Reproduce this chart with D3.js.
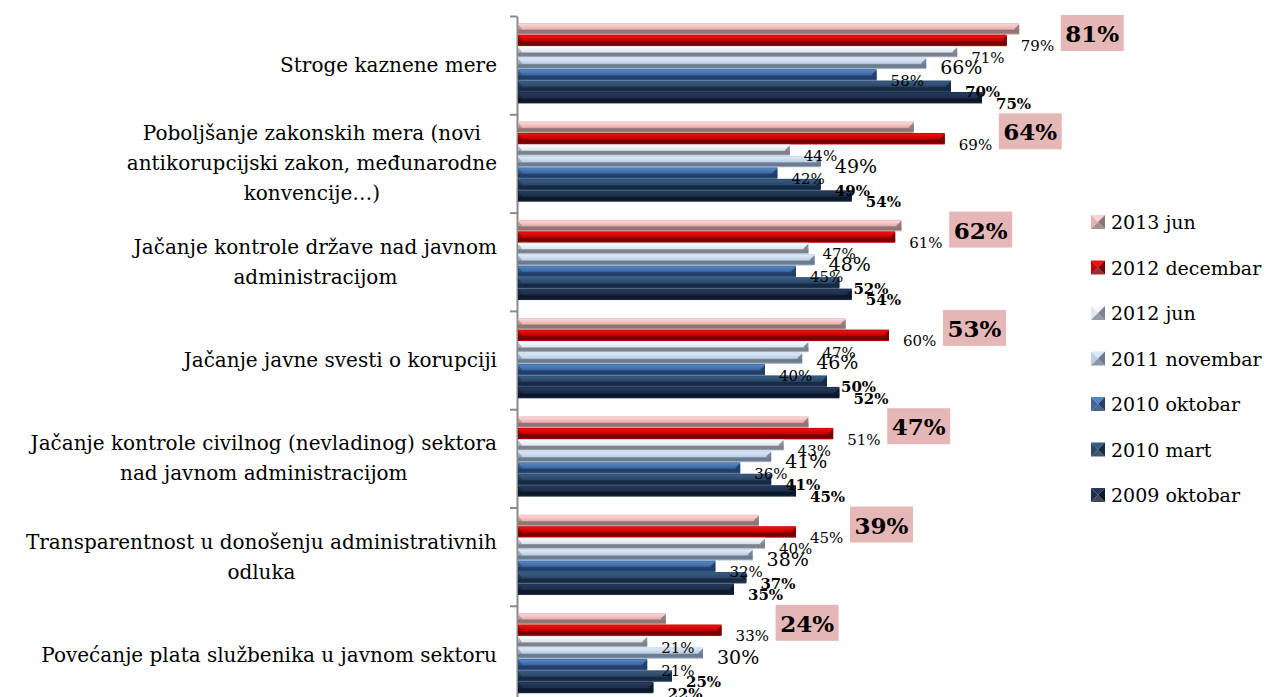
<!DOCTYPE html>
<html lang="sr">
<head>
    <meta charset="UTF-8">
    <title>Mere protiv korupcije</title>
    <script src="https://d3js.org/d3.v7.min.js"></script>
    <style>
        body {
            margin: 0;
            background: #fff;
        }
        text {
            font-family: "DejaVu Serif", serif;
            fill: #000;
        }
        .cat-label {
            font-size: 20px;
        }
        .legend text {
            font-size: 19px;
        }
    </style>
</head>
<body>
<svg width="1280" height="697"></svg>
<script>
    // categories (line breaks as in the original chart)
    let categories = [
        "Stroge kaznene mere",
        "Poboljšanje zakonskih mera (novi\nantikorupcijski zakon, međunarodne\nkonvencije…)",
        "Jačanje kontrole države nad javnom\nadministracijom",
        "Jačanje javne svesti o korupciji",
        "Jačanje kontrole civilnog (nevladinog) sektora\nnad  javnom administracijom",
        "Transparentnost u donošenju administrativnih\nodluka",
        "Povećanje plata službenika u javnom sektoru"
    ];

    let seriesNames = ["2013 jun", "2012 decembar", "2012 jun", "2011 novembar",
        "2010 oktobar", "2010 mart", "2009 oktobar"];

    // values in %, one per category
    let jun2013 = [81, 64, 62, 53, 47, 39, 24];
    let dec2012 = [79, 69, 61, 60, 51, 45, 33];
    let jun2012 = [71, 44, 47, 47, 43, 40, 21];
    let nov2011 = [66, 49, 48, 46, 41, 38, 30];
    let okt2010 = [58, 42, 45, 40, 36, 32, 21];
    let mar2010 = [70, 49, 52, 50, 41, 37, 25];
    let okt2009 = [75, 54, 54, 52, 45, 35, 22];

    let seriesValues = [jun2013, dec2012, jun2012, nov2011, okt2010, mar2010, okt2009];

    // bar shading: [highlight, base, shadow]
    let shades = [
        ["#f8d4d3", "#ebb0af", "#8f7676"],
        ["#e81010", "#c80000", "#760000"],
        ["#f7f9fc", "#dfe7f0", "#7d838d"],
        ["#dbe7f6", "#bccfe7", "#6d7b8e"],
        ["#5284c2", "#3b669e", "#213f69"],
        ["#38597f", "#2b4869", "#162a44"],
        ["#24395a", "#1b2e4b", "#0d192b"]
    ];
    // label styles per series (first series is boxed)
    let labelSize = [23, 15, 15, 19, 15, 15, 15];
    let labelWeight = ["bold", "normal", "normal", "normal", "normal", "bold", "bold"];

    let width = 1280, height = 697;
    let plot = { left: 517, top: 16, right: 1137, step: 98.3 };

    let svg = d3.select("svg")
        .attr("width", width)
        .attr("height", height);

    let xscale = d3.scaleLinear()
        .domain([0, 100])
        .range([plot.left, plot.right]);

    let yscale = d3.scaleBand()
        .domain(categories)
        .range([plot.top, plot.top + plot.step * categories.length])
        .padding(0);

    let inner = d3.scaleBand()
        .domain(seriesNames)
        .range([0, yscale.bandwidth()])
        .paddingInner(0)
        .paddingOuter(0.79)
        .align(0.4);

    // gradients
    let defs = svg.append("defs");
    shades.forEach(function (s, i) {
        let g = defs.append("linearGradient")
            .attr("id", "bar" + i)
            .attr("x1", 0).attr("y1", 0).attr("x2", 0).attr("y2", 1);
        g.append("stop").attr("offset", "0%").attr("stop-color", s[1]);
        g.append("stop").attr("offset", "12%").attr("stop-color", s[0]);
        g.append("stop").attr("offset", "50%").attr("stop-color", s[1]);
        g.append("stop").attr("offset", "62%").attr("stop-color", s[2]);
        g.append("stop").attr("offset", "85%").attr("stop-color", s[2]);
        g.append("stop").attr("offset", "100%").attr("stop-color", s[1]);
    });

    // category axis (ticks between categories)
    let ylin = d3.scaleLinear()
        .domain([0, categories.length])
        .range([plot.top, plot.top + plot.step * categories.length]);

    let axis = svg.append("g")
        .attr("transform", `translate(${plot.left}, 0)`)
        .call(d3.axisLeft(ylin).ticks(categories.length).tickSize(7).tickSizeOuter(0).tickFormat(""));
    axis.select(".domain").attr("stroke", "#8a8a8a").attr("stroke-width", 2);
    axis.selectAll(".tick line").attr("stroke", "#8a8a8a").attr("stroke-width", 2);

    // bars
    seriesValues.forEach(function (values, si) {
        let g = svg.append("g");
        values.forEach(function (v, ci) {
            let y = yscale(categories[ci]) + inner(seriesNames[si]);
            let h = inner.bandwidth();
            let x0 = xscale(0) + 1;
            let x1 = xscale(v);
            g.append("rect")
                .attr("x", x0)
                .attr("y", y)
                .attr("width", x1 - x0)
                .attr("height", h)
                .attr("fill", `url(#bar${si})`);
            // end cap
            g.append("polygon")
                .attr("points", [[x1, y + 1], [x1 - 5, y + h / 2], [x1, y + h - 1]].join(" "))
                .attr("fill", shades[si][2])
                .attr("opacity", 0.9);
            // left cap
            g.append("polygon")
                .attr("points", [[x0, y + 1], [x0 + 4, y + h / 2], [x0, y + h - 1]].join(" "))
                .attr("fill", shades[si][2])
                .attr("opacity", 0.5);
        });
    });

    // data labels
    seriesValues.forEach(function (values, si) {
        values.forEach(function (v, ci) {
            let y = yscale(categories[ci]) + inner(seriesNames[si]) + inner.bandwidth() / 2;
            if (si === 0) {
                // boxed label, placed after the next bar's label
                let bx = xscale(dec2012[ci]) + 54;
                let by = yscale(categories[ci]) - 1;
                svg.append("rect")
                    .attr("x", bx)
                    .attr("y", by)
                    .attr("width", 63)
                    .attr("height", 36)
                    .attr("fill", "#e5b8b7");
                svg.append("text")
                    .attr("x", bx + 31.5)
                    .attr("y", by + 27)
                    .attr("text-anchor", "middle")
                    .style("font-size", labelSize[si] + "px")
                    .style("font-weight", labelWeight[si])
                    .text(v + "%");
            } else {
                svg.append("text")
                    .attr("x", xscale(v) + 14)
                    .attr("y", y + 11)
                    .style("font-size", labelSize[si] + "px")
                    .style("font-weight", labelWeight[si])
                    .text(v + "%");
            }
        });
    });

    // category labels: lines centred in a block that ends at the axis
    categories.forEach(function (c) {
        let lines = c.split("\n");
        let g = svg.append("g").attr("class", "cat-label");
        let cy = yscale(c) + yscale.bandwidth() / 2;
        let texts = lines.map(function (line, li) {
            return g.append("text")
                .attr("class", "cat-label")
                .attr("y", cy + (li - (lines.length - 1) / 2) * 30 + 7)
                .attr("text-anchor", "middle")
                .text(line);
        });
        let maxW = d3.max(texts, t => t.node().getComputedTextLength());
        texts.forEach(t => t.attr("x", 497 - maxW / 2));
    });

    // legend
    let legend = svg.append("g").attr("class", "legend");
    seriesNames.forEach(function (name, i) {
        let ly = 222 + i * 45.5;
        let s = shades[i];
        let x = 1091, y = ly - 7, w = 14;
        let item = legend.append("g");
        item.append("polygon").attr("points", [[x, y], [x + w, y], [x + w / 2, y + w / 2]].join(" ")).attr("fill", s[0]);
        item.append("polygon").attr("points", [[x, y], [x, y + w], [x + w / 2, y + w / 2]].join(" ")).attr("fill", s[1]);
        item.append("polygon").attr("points", [[x + w, y], [x + w, y + w], [x + w / 2, y + w / 2]].join(" ")).attr("fill", s[2]);
        item.append("polygon").attr("points", [[x, y + w], [x + w, y + w], [x + w / 2, y + w / 2]].join(" ")).attr("fill", s[2]).attr("opacity", 0.8);
        item.append("text")
            .attr("x", 1111)
            .attr("y", ly + 7)
            .text(name);
    });
</script>
</body>
</html>
